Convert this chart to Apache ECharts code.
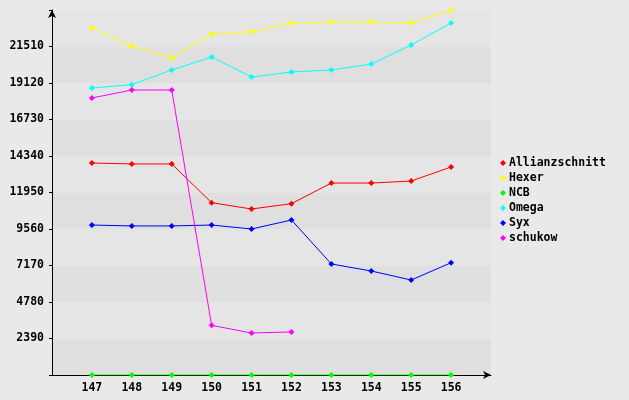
<!DOCTYPE html>
<html>
<head>
<meta charset="utf-8">
<script src="https://cdn.jsdelivr.net/npm/echarts@6/dist/echarts.min.js"></script>
<style>
  html, body { margin: 0; padding: 0; background: #e9e9e9; }
  #chart { width: 629px; height: 400px; }
</style>
</head>
<body>
<div id="chart"></div>
<script>
// rounds on the x axis
const rounds = [147, 148, 149, 150, 151, 152, 153, 154, 155, 156]
const yTicks = [0, 2390, 4780, 7170, 9560, 11950, 14340, 16730, 19120, 21510, 23900]

const allianzschnitt = [13880, 13820, 13820, 11280, 10870, 11220, 12570, 12570, 12700, 13620]
const hexer = [22720, 21540, 20760, 22330, 22480, 23050, 23110, 23110, 23050, 23880]
const ncb = [0, 0, 0, 0, 0, 0, 0, 0, 0, 0]
const omega = [18790, 19010, 19970, 20820, 19510, 19840, 19970, 20360, 21610, 23050]
const syx = [9820, 9760, 9760, 9820, 9560, 10150, 7270, 6810, 6220, 7350]
const schukow = [18140, 18660, 18660, 3250, 2750, 2820, null, null, null, null]

const names = ['Allianzschnitt', 'Hexer', 'NCB', 'Omega', 'Syx', 'schukow']
const colors = ['#ff0000', '#ffff00', '#00ff00', '#00ffff', '#0000ff', '#ff00ff']
const values = [allianzschnitt, hexer, ncb, omega, syx, schukow]

const font = 'DejaVu Sans Mono'

const series = names.map((name, i) => ({
	name: name,
	type: 'line',
	data: rounds.map((r, j) => [r, values[i][j]]),
	symbol: 'diamond',
	symbolSize: 6,
	showSymbol: true,
	connectNulls: false,
	lineStyle: { width: 1, color: colors[i] },
	itemStyle: { color: colors[i] },
	emphasis: { disabled: true }
}))

const chart = echarts.init(document.getElementById('chart'))
const option = {
	animation: false,
	backgroundColor: '#e9e9e9',
	color: colors,
	grid: { left: 52, right: 138, top: 10, bottom: 25 },
	legend: {
		orient: 'vertical',
		left: 495,
		top: 152,
		icon: 'diamond',
		itemWidth: 6,
		itemHeight: 6,
		itemGap: 3,
		textStyle: { fontFamily: font, fontWeight: 'bold', fontSize: 11.5, color: '#000', padding: [0, 0, 0, -2] },
		data: names
	},
	xAxis: {
		type: 'value',
		min: rounds[0] - 1,
		max: rounds[rounds.length - 1] + 1,
		interval: 1,
		splitLine: { show: false },
		axisTick: { show: false },
		axisLine: {
			show: true,
			symbol: ['none', 'arrow'],
			symbolSize: [6, 8],
			lineStyle: { color: '#000', width: 1 }
		},
		axisLabel: {
			margin: 7,
			fontFamily: font,
			fontWeight: 'bold',
			fontSize: 11.5,
			color: '#000',
			formatter: (v) => (rounds.indexOf(v) >= 0 ? String(v) : '')
		}
	},
	yAxis: {
		type: 'value',
		min: yTicks[0],
		max: yTicks[yTicks.length - 1],
		interval: yTicks[1],
		splitLine: { show: false },
		splitArea: { show: true, areaStyle: { color: ['#dfdfdf', '#e5e5e5'] } },
		axisTick: { show: true, length: 3, lineStyle: { color: '#000' } },
		axisLine: {
			show: true,
			symbol: ['none', 'arrow'],
			symbolSize: [6, 8],
			lineStyle: { color: '#000', width: 1 }
		},
		axisLabel: {
			margin: 8,
			fontFamily: font,
			fontWeight: 'bold',
			fontSize: 11.5,
			color: '#000',
			formatter: (v) => (v === yTicks[0] || v === yTicks[yTicks.length - 1] ? '' : String(v))
		}
	},
	series: series
}
option && chart.setOption(option)
</script>
</body>
</html>
